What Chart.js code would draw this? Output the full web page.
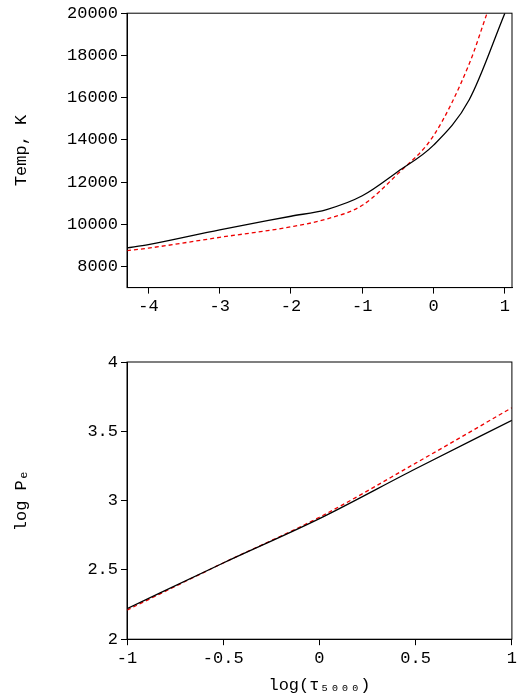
<!DOCTYPE html><html><head><script src="https://cdn.jsdelivr.net/npm/chart.js@4"></script>
<style>body{margin:0;background:#fff}#a{position:absolute;left:0;top:0}#b{position:absolute;left:0;top:340px}</style></head><body>
<div id="a" style="width:520px;height:320px"><canvas id="c1"></canvas></div>
<div id="b" style="width:520px;height:360px"><canvas id="c2"></canvas></div>
<script>
const tX=[-4.3,-4,-3,-2,-1.5,-1,-0.5,0,0.5,1];
const tBlack=[8880,9040,9740,10380,10700,11350,12500,13750,15900,20000];
const tRedX=[-4.3,-4,-3,-2,-1.5,-1,-0.5,0,0.5,0.75];
const tRed=[8750,8870,9380,9880,10250,10900,12400,14200,17600,20000];
const pX=[-1,-0.5,0,0.5,1];
const pBlack=[2.22,2.55,2.87,3.23,3.58];
const pRed=[2.21,2.55,2.88,3.27,3.67];
const xTicksTop=[-4,-3,-2,-1,0,1];
const yTicksTop=[8000,10000,12000,14000,16000,18000,20000];
const xTicksBot=[-1,-0.5,0,0.5,1];
const yTicksBot=[2,2.5,3,3.5,4];
const F={family:'Liberation Mono',size:17};
const box={id:'box',afterDraw(c){const a=c.chartArea,x=c.ctx;x.save();x.strokeStyle='#000';x.lineWidth=1;x.strokeRect(a.left,a.top,a.right-a.left,a.bottom-a.top);x.restore();}};
function ax(min,max,ticks){return{type:'linear',min,max,afterBuildTicks:s=>{s.ticks=ticks.map(v=>({value:v}))},
 ticks:{color:'#000',font:F,autoSkip:false,maxRotation:0,callback:v=>String(v)},grid:{drawOnChartArea:false,color:'#000',tickLength:6},border:{color:'#000'}}}
function mk(id,dsets,xs,ys,ytitle,xtitle,pad){
 const y=ax(...ys);y.title={display:true,text:ytitle,color:'#000',font:F};y.afterFit=s=>{s.width=120};
 const x=ax(...xs);x.title={display:!!xtitle,text:xtitle,color:'#000',font:F};
 new Chart(document.getElementById(id),{type:'line',data:{datasets:dsets},
 options:{responsive:true,maintainAspectRatio:false,animation:false,layout:{padding:pad},
 plugins:{legend:{display:false},tooltip:{enabled:false}},elements:{point:{radius:0}},
 scales:{x,y}},plugins:[box]});}
const ln=(xs,ys,col,dash)=>({data:xs.map((x,i)=>({x,y:ys[i]})),borderColor:col,borderWidth:1.3,borderDash:dash,cubicInterpolationMode:'monotone',fill:false});
mk('c1',[ln(tX,tBlack,'#000',[]),ln(tRedX,tRed,'#e00',[4,3])],[-4.3,1.1,xTicksTop],[7000,20000,yTicksTop],'Temp, K','',{top:12,right:8,left:7,bottom:0});
mk('c2',[ln(pX,pBlack,'#000',[]),ln(pX,pRed,'#e00',[4,3])],[-1,1,xTicksBot],[2,4,yTicksBot],'log Pₑ','log(τ₅₀₀₀)',{top:22,right:8,left:7});
</script></body></html>
